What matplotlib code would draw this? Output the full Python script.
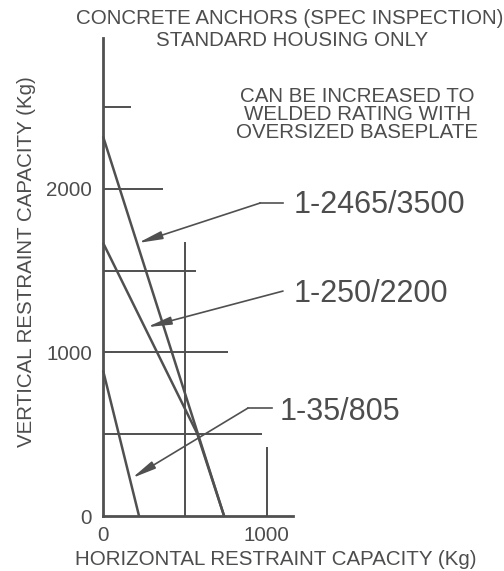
import matplotlib.pyplot as plt

plt.rcParams["font.family"] = ["Liberation Sans", "DejaVu Sans"]

# capacity lines (Kg)
line1_x = [0, 740]
line1_y = [2320, 0]
line2_x = [0, 575, 740]
line2_y = [1670, 505, 0]
line3_x = [0, 220]
line3_y = [890, 0]

# reference grid segments
h_levels = [500, 1000, 1500, 2000, 2500]
h_ends = [972, 765, 568, 367, 171]
v_levels = [500, 1000]
v_tops = [1672, 420]

# annotations
ann_labels = ["1-2465/3500", "1-250/2200", "1-35/805"]
ann_tips = [(214, 1669), (269, 1155), (177, 232)]
ann_knees = [(960, 1913), (1100, 1375), (886, 660)]
ann_ends = [(1100, 1913), (1100, 1375), (1033, 660)]
ann_text_pos = [(1162, 1852), (1162, 1308), (1082, 587)]

x_ticks = [0, 1000]
y_ticks = [0, 1000, 2000]

line_col = "#505050"
text_col = "#4d4d4d"
small = 14.8

fig = plt.figure(figsize=(5.04, 5.71), dpi=100)
ax = fig.add_axes([0, 0, 1, 1])

# data range mapped onto the full figure (163.6 px per 1000 Kg)
ax.set_xlim(-630, 2451)
ax.set_ylim(-336, 3154)

for s in ["top", "right"]:
    ax.spines[s].set_visible(False)
ax.spines["left"].set_position(("data", 0))
ax.spines["bottom"].set_position(("data", 0))
ax.spines["left"].set_bounds(0, 2922)
ax.spines["bottom"].set_bounds(0, 1161)
for s in ["left", "bottom"]:
    ax.spines[s].set_linewidth(2.0)
    ax.spines[s].set_color(line_col)

ax.set_xticks(x_ticks)
ax.set_xticklabels([str(t) for t in x_ticks])
ax.set_yticks(y_ticks)
ax.set_yticklabels([str(t) for t in y_ticks])
ax.tick_params(axis="both", length=0, labelsize=small, labelcolor=text_col)
ax.tick_params(axis="x", pad=7.5)
ax.tick_params(axis="y", pad=7.9)

# grid segments
for lvl, end in zip(h_levels, h_ends):
    ax.plot([0, end], [lvl, lvl], color=line_col, lw=1.4, solid_capstyle="butt")
for pos, top in zip(v_levels, v_tops):
    ax.plot([pos, pos], [0, top], color=line_col, lw=1.4, solid_capstyle="butt")

# capacity lines
for xs, ys in [(line1_x, line1_y), (line2_x, line2_y), (line3_x, line3_y)]:
    ax.plot(xs, ys, color=line_col, lw=1.8, solid_capstyle="butt")

# leader lines with arrows
for label, tip, knee, end, tpos in zip(ann_labels, ann_tips, ann_knees, ann_ends, ann_text_pos):
    ax.plot([knee[0], end[0]], [knee[1], end[1]], color=line_col, lw=1.2)
    ax.annotate(
        "",
        xy=tip,
        xytext=knee,
        arrowprops=dict(
            arrowstyle="-|>,head_length=0.72,head_width=0.12",
            mutation_scale=20,
            color=line_col,
            lw=1.2,
            shrinkA=0,
            shrinkB=0,
        ),
    )
    ax.text(tpos[0], tpos[1], label, fontsize=22, color=text_col,
            ha="left", va="baseline")

# titles and notes
ax.text(1140, 3007, "CONCRETE ANCHORS (SPEC INSPECTION)", fontsize=small,
        color=text_col, ha="center", va="baseline")
ax.text(1155, 2873, "STANDARD HOUSING ONLY", fontsize=small,
        color=text_col, ha="center", va="baseline")

note_lines = ["CAN BE INCREASED TO", "WELDED RATING WITH", "OVERSIZED BASEPLATE"]
note_base = [2531, 2421, 2311]
for txt, yb in zip(note_lines, note_base):
    ax.text(1553, yb, txt, fontsize=small, color=text_col, ha="center", va="baseline")

ax.text(1058, -300, "HORIZONTAL RESTRAINT CAPACITY (Kg)", fontsize=small,
        color=text_col, ha="center", va="baseline")
ax.text(-465, 1553, "VERTICAL RESTRAINT CAPACITY (Kg)", fontsize=small,
        color=text_col, ha="center", va="center", rotation=90)

plt.savefig("out.png", dpi=100)
